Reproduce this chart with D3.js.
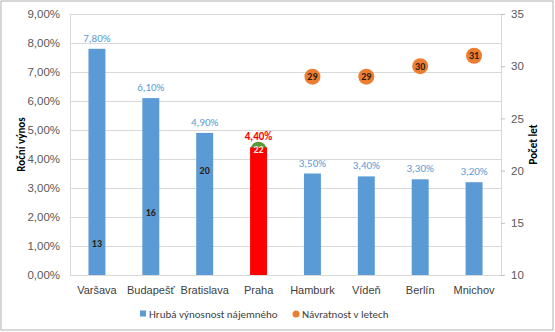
<!DOCTYPE html>
<html><head><meta charset="utf-8">
<script src="https://cdn.jsdelivr.net/npm/d3@7"></script>
<style>body{margin:0;background:#fff}svg{display:block;font-family:Calibri,Carlito,"Liberation Sans","Open Sans",sans-serif}</style>
</head><body><svg id="c" width="555" height="332"></svg>
<script>
const categories = ["Varšava","Budapešť","Bratislava","Praha","Hamburk","Vídeň","Berlín","Mnichov"];
const yieldValues = [7.8, 6.1, 4.9, 4.4, 3.5, 3.4, 3.3, 3.2];
const yearsValues = [13, 16, 20, 22, 29, 29, 30, 31];
const leftTicks = [0,1,2,3,4,5,6,7,8,9];
const rightTicks = [10,15,20,25,30,35];
const seriesNames = ["Hrubá výnosnost nájemného","Návratnost v letech"];
const highlight = "Praha";

const svg = d3.select("#c");
const m = {l:70, r:501, t:14, b:275};
const x = d3.scaleBand().domain(categories).range([m.l, m.r]).paddingInner(0.685).paddingOuter(0.3425);
const yL = d3.scaleLinear().domain([0,9]).range([m.b, m.t]);
const yR = d3.scaleLinear().domain([10,35]).range([m.b, m.t]);
const fmt = v => d3.format(".2f")(v).replace(".", ",") + "%";

svg.append("rect").attr("x",1).attr("y",1).attr("width",552).attr("height",329)
  .attr("fill","#fff").attr("stroke","#b0b0b0");

// gridlines
svg.append("g").selectAll("line").data(leftTicks).join("line")
  .attr("x1",m.l).attr("x2",m.r).attr("y1",d=>yL(d)+0.5).attr("y2",d=>yL(d)+0.5)
  .attr("stroke","#d9d9d9");
svg.append("line").attr("x1",m.l+0.5).attr("x2",m.l+0.5).attr("y1",m.t).attr("y2",m.b).attr("stroke","#d9d9d9");
svg.append("line").attr("x1",m.r+0.5).attr("x2",m.r+0.5).attr("y1",m.t).attr("y2",m.b).attr("stroke","#d9d9d9");

// left axis
const gL = svg.append("g").attr("transform",`translate(${m.l},0)`)
  .call(d3.axisLeft(yL).tickValues(leftTicks).tickFormat(fmt).tickSize(0).tickPadding(10));
gL.select(".domain").remove();
gL.selectAll("text").attr("fill","#595959").attr("font-size",11.5);

// right axis
const gR = svg.append("g").attr("transform",`translate(${m.r},0)`)
  .call(d3.axisRight(yR).tickValues(rightTicks).tickSize(4).tickPadding(6));
gR.select(".domain").remove();
gR.selectAll("line").attr("stroke","#bfbfbf");
gR.selectAll("text").attr("fill","#595959").attr("font-size",11.5);

// bottom axis labels
const gB = svg.append("g").attr("transform",`translate(0,${m.b})`)
  .call(d3.axisBottom(x).tickSize(0).tickPadding(11));
gB.select(".domain").attr("stroke","#d9d9d9");
gB.selectAll("text").attr("fill","#404040").attr("font-size",11);

// axis titles
svg.append("text").attr("transform",`translate(25,${(m.t+m.b)/2}) rotate(-90)`)
  .attr("text-anchor","middle").attr("font-size",11).attr("font-weight","bold").attr("fill","#000").text("Roční výnos");
svg.append("text").attr("transform",`translate(537,${(m.t+m.b)/2}) rotate(-90)`)
  .attr("text-anchor","middle").attr("font-size",11).attr("font-weight","bold").attr("fill","#000").text("Počet let");

const cx = c => x(c) + x.bandwidth()/2;

// markers (behind bars)
svg.append("g").selectAll("circle").data(categories).join("circle")
  .attr("cx",cx).attr("cy",(c,i)=>yR(yearsValues[i])).attr("r",8)
  .attr("fill",c=>c===highlight?"#5a9a3a":"#ED7D31");

// bars
svg.append("g").selectAll("rect").data(categories).join("rect")
  .attr("x",c=>x(c)).attr("width",x.bandwidth())
  .attr("y",(c,i)=>yL(yieldValues[i])).attr("height",(c,i)=>yL(0)-yL(yieldValues[i]))
  .attr("fill",c=>c===highlight?"#FF0000":"#5B9BD5");

// bar labels
svg.append("g").selectAll("text").data(categories).join("text")
  .attr("x",cx).attr("y",(c,i)=>yL(yieldValues[i])-7)
  .attr("text-anchor","middle").attr("font-size",11)
  .attr("font-weight",c=>c===highlight?"bold":"normal")
  .attr("fill",c=>c===highlight?"#FF0000":"#5B9BD5")
  .text((c,i)=>fmt(yieldValues[i]));

// point labels
svg.append("g").selectAll("text").data(categories).join("text")
  .attr("x",cx).attr("y",(c,i)=>yR(yearsValues[i])+3.5)
  .attr("text-anchor","middle").attr("font-size",10).attr("font-weight","bold")
  .attr("fill",c=>c===highlight?"#e8f0e0":"#2b1d10")
  .text((c,i)=>yearsValues[i]);

// legend
const lg = svg.append("g").attr("transform","translate(0,314)");
lg.append("rect").attr("x",140).attr("y",-3.5).attr("width",6).attr("height",6).attr("fill","#5B9BD5");
lg.append("text").attr("x",149).attr("y",4).attr("font-size",11).attr("fill","#404040").text(seriesNames[0]);
lg.append("circle").attr("cx",296).attr("cy",0).attr("r",3.5).attr("fill","#ED7D31");
lg.append("text").attr("x",302).attr("y",4).attr("font-size",11).attr("fill","#404040").text(seriesNames[1]);
</script></body></html>
